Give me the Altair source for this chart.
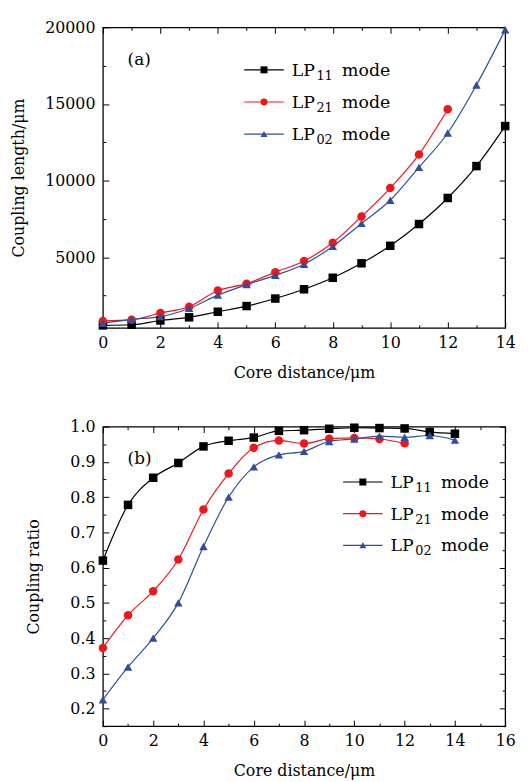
import altair as alt
import pandas as pd

# ---------------- data ----------------
series_names = ["LP₁₁ mode", "LP₂₁ mode", "LP₀₂ mode"]
legend_main = ["LP", "LP", "LP"]
legend_sub = ["11", "21", "02"]
legend_tail = ["mode", "mode", "mode"]

dist_a_11 = list(range(15))
len_11 = [560, 600, 880, 1085, 1450, 1820, 2310, 2915, 3665, 4610, 5750, 7170, 8870, 10950, 13560]
dist_a_21 = list(range(13))
len_21 = [850, 920, 1370, 1775, 2830, 3280, 4030, 4760, 5950, 7660, 9515, 11710, 14655]
dist_a_02 = list(range(15))
len_02 = [700, 955, 1130, 1665, 2530, 3215, 3820, 4550, 5710, 7210, 8720, 10870, 13107, 16240, 19835]

dist_b_11 = list(range(15))
ratio_11 = [0.620, 0.778, 0.855, 0.897, 0.944, 0.960, 0.969, 0.988, 0.990, 0.994, 0.997, 0.996, 0.995, 0.985, 0.980]
dist_b_21 = list(range(13))
ratio_21 = [0.372, 0.465, 0.533, 0.623, 0.765, 0.867, 0.940, 0.961, 0.952, 0.966, 0.968, 0.965, 0.953]
dist_b_02 = list(range(15))
ratio_02 = [0.225, 0.318, 0.400, 0.500, 0.660, 0.800, 0.886, 0.920, 0.930, 0.958, 0.965, 0.973, 0.970, 0.975, 0.962]

x_major_a = [0, 2, 4, 6, 8, 10, 12, 14]
x_minor_a = [1, 3, 5, 7, 9, 11, 13]
y_major_a = [5000, 10000, 15000, 20000]
y_minor_a = [2500, 7500, 12500, 17500]
x_major_b = [0, 2, 4, 6, 8, 10, 12, 14, 16]
x_minor_b = [1, 3, 5, 7, 9, 11, 13, 15]
y_major_b = [0.2, 0.3, 0.4, 0.5, 0.6, 0.7, 0.8, 0.9, 1.0]
y_minor_b = [0.15, 0.25, 0.35, 0.45, 0.55, 0.65, 0.75, 0.85, 0.95]

# ---------------- styles ----------------
colors = ["#000000", "#f0161c", "#2f4e9e"]
shapes = ["square", "circle", "triangle-up"]
FONT = "DejaVu Serif"
MAJ = 6
MIN = 3


def long_df(pairs):
    rows = []
    for name, xs, ys in pairs:
        for x, y in zip(xs, ys):
            rows.append({"x": x, "y": y, "series": name})
    return pd.DataFrame(rows)


def tick_axis(orient, values, size):
    return alt.Axis(orient=orient, values=values, labels=False, title=None,
                    tickSize=size, offset=-size, domain=False, grid=False)


def panel(df, xdom, xmaj, xmin, ydom, ymaj, ymin, yformat, ytitle, ytitle_pad, tag,
          leg_x, leg_rows, w, h):
    xscale = alt.Scale(domain=xdom, nice=False, zero=False)
    yscale = alt.Scale(domain=ydom, nice=False, zero=False)
    cscale = alt.Scale(domain=series_names, range=colors)
    sscale = alt.Scale(domain=series_names, range=shapes)

    base = alt.Chart(df)
    lines = base.mark_line(interpolate="monotone", strokeWidth=1.2).encode(
        x=alt.X("x:Q", scale=xscale, axis=alt.Axis(
            orient="bottom", values=xmaj, title="Core distance/μm",
            tickSize=MAJ, offset=-MAJ, domain=False, grid=False,
            labelPadding=7, titlePadding=14, labelFlush=False, labelOverlap=False)),
        y=alt.Y("y:Q", scale=yscale, axis=alt.Axis(
            orient="left", values=ymaj, title=ytitle, format=yformat,
            tickSize=MAJ, offset=-MAJ, domain=False, grid=False,
            labelPadding=8, titlePadding=ytitle_pad, labelFlush=False, labelOverlap=False)),
        color=alt.Color("series:N", scale=cscale, legend=None),
        detail="series:N",
    )
    points = base.mark_point(filled=True, size=74, opacity=1).encode(
        x=alt.X("x:Q", scale=xscale, axis=None),
        y=alt.Y("y:Q", scale=yscale, axis=None),
        color=alt.Color("series:N", scale=cscale, legend=None),
        shape=alt.Shape("series:N", scale=sscale, legend=None),
    )

    def ghost(xa, ya):
        return base.mark_point(opacity=0).encode(
            x=alt.X("x:Q", scale=xscale, axis=xa),
            y=alt.Y("y:Q", scale=yscale, axis=ya),
        )

    top_right_major = ghost(tick_axis("top", xmaj, MAJ), tick_axis("right", ymaj, MAJ))
    bottom_left_minor = ghost(tick_axis("bottom", xmin, MIN), tick_axis("left", ymin, MIN))
    top_right_minor = ghost(tick_axis("top", xmin, MIN), tick_axis("right", ymin, MIN))

    # legend (drawn as marks, rows placed on a point scale)
    leg_df = pd.DataFrame({"series": series_names, "main": legend_main,
                           "sub": legend_sub, "tail": legend_tail})
    leg_y = alt.Y("series:N", axis=None, scale=alt.Scale(
        type="point", domain=series_names, range=leg_rows, padding=0))
    leg_base = alt.Chart(leg_df)
    leg_rule = leg_base.mark_rule(strokeWidth=1.2).encode(
        x=alt.value(leg_x - 20), x2=alt.value(leg_x + 20), y=leg_y,
        color=alt.Color("series:N", scale=cscale, legend=None))
    leg_pt = leg_base.mark_point(filled=True, size=50, opacity=1).encode(
        x=alt.value(leg_x), y=leg_y,
        color=alt.Color("series:N", scale=cscale, legend=None),
        shape=alt.Shape("series:N", scale=sscale, legend=None))
    leg_main = leg_base.mark_text(align="left", baseline="middle", fontSize=17.5,
                                  font=FONT, color="black", dy=1).encode(
        x=alt.value(leg_x + 28), y=leg_y, text="main:N")
    leg_sub = leg_base.mark_text(align="left", baseline="middle", fontSize=13,
                                 font=FONT, color="black", dy=6).encode(
        x=alt.value(leg_x + 53), y=leg_y, text="sub:N")
    leg_tail = leg_base.mark_text(align="left", baseline="middle", fontSize=17.5,
                                  font=FONT, color="black", dy=1).encode(
        x=alt.value(leg_x + 79), y=leg_y, text="tail:N")

    label = alt.Chart(pd.DataFrame({"t": [tag]})).mark_text(
        align="left", baseline="middle", fontSize=17, font=FONT, color="black"
    ).encode(text="t:N", x=alt.value(25), y=alt.value(33))

    data_layers = alt.layer(lines, points, top_right_major, bottom_left_minor,
                            top_right_minor).resolve_axis(x="independent", y="independent")
    legend_layers = alt.layer(leg_rule, leg_pt, leg_main, leg_sub, leg_tail)
    return alt.layer(data_layers, legend_layers, label).resolve_scale(
        y="independent").resolve_axis(x="independent", y="independent").properties(
        width=w, height=h)


df_a = long_df([(series_names[0], dist_a_11, len_11),
                (series_names[1], dist_a_21, len_21),
                (series_names[2], dist_a_02, len_02)])
df_b = long_df([(series_names[0], dist_b_11, ratio_11),
                (series_names[1], dist_b_21, ratio_21),
                (series_names[2], dist_b_02, ratio_02)])

pa = panel(df_a, [0, 14], x_major_a, x_minor_a, [400, 20000], y_major_a, y_minor_a, "d",
           "Coupling length/μm", 18, "(a)", 163, [43, 108], 407, 304)
pb = panel(df_b, [0, 16], x_major_b, x_minor_b, [0.15, 1.0], y_major_b, y_minor_b, ".1f",
           "Coupling ratio", 29, "(b)", 263, [56, 120], 407, 303)

chart = alt.vconcat(pa, pb, spacing=37).properties(
    padding={"left": 2, "top": 6, "right": 5, "bottom": 5}
).configure_axis(
    labelFont=FONT, labelFontSize=16, labelColor="black",
    titleFont=FONT, titleFontSize=16, titleFontWeight="normal", titleColor="black",
    tickColor="black", tickWidth=1,
).configure_view(stroke="black", strokeWidth=1.3)

chart.save("out.html", embed_options={"renderer": "svg", "actions": False})
